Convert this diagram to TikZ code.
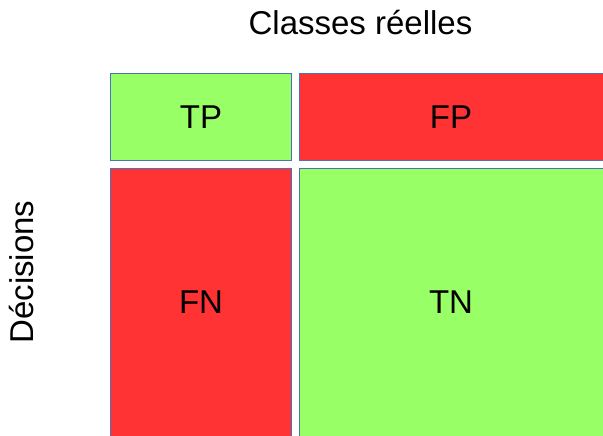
\documentclass[tikz,border=0pt]{standalone}
\usepackage{fontspec}
\setmainfont{Liberation Sans}
\definecolor{cellgreen}{HTML}{99FF66}
\definecolor{cellred}{HTML}{FF3333}
\definecolor{cellborder}{HTML}{4A72B8}
\begin{document}
\begin{tikzpicture}[x=1pt,y=-1pt,
  cell/.style={draw=cellborder,line width=1.3pt},
  lbl/.style={font=\fontsize{33}{38}\selectfont,inner sep=0pt}]
\useasboundingbox (0,0) rectangle (603,436);
\clip (0,0) rectangle (603,436);
\fill[white] (0,0) rectangle (603,436);
\draw[cell,fill=cellgreen] (110.5,73.5) rectangle (291.5,160.5);
\draw[cell,fill=cellred] (299.5,73.5) rectangle (610,160.5);
\draw[cell,fill=cellred] (110.5,168.5) rectangle (291.5,445);
\draw[cell,fill=cellgreen] (299.5,168.5) rectangle (610,445);
\node[lbl] (tp) at (201,117) {TP};
\node[lbl] (fp) at (451,117) {FP};
\node[lbl] (fn) at (201,302) {FN};
\node[lbl] (tn) at (451,302) {TN};
\node[lbl] (classes) at (360.5,23) {Classes réelles};
\node[lbl,rotate=90] (dec) at (22,272) {Décisions};
\end{tikzpicture}
\end{document}
